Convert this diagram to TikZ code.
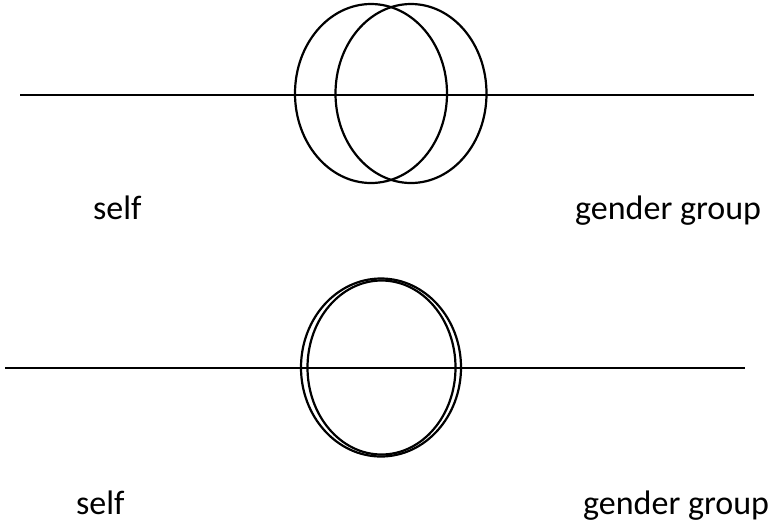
\documentclass[tikz,border=0pt]{standalone}
\usepackage{fontspec}
\setmainfont{Carlito}
\begin{document}
\begin{tikzpicture}[x=1pt,y=-1pt,
  shape line/.style={line width=2.2pt},
  lbl/.style={anchor=base west,inner sep=0pt,font=\fontsize{34}{34}\selectfont}]
\useasboundingbox (0,0) rectangle (768,523);
% top diagram
\coordinate (tl) at (20,95);
\coordinate (tr) at (754,95);
\draw[shape line] (tl) -- (tr);
\draw[shape line] (371,93.5) ellipse [x radius=76, y radius=89.5];
\draw[shape line] (411,93.5) ellipse [x radius=75.5, y radius=89.5];
\node[lbl] (self1) at (93,219) {self};
\node[lbl] (gg1) at (575,219) {gender group};
% bottom diagram
\coordinate (bl) at (5,368);
\coordinate (br) at (745,368);
\draw[shape line] (bl) -- (br);
\draw[shape line] (381,367.5) ellipse [x radius=80, y radius=89];
\draw[shape line] (381.5,367.5) ellipse [x radius=74, y radius=87];
\node[lbl] (self2) at (76,514) {self};
\node[lbl] (gg2) at (583,514) {gender group};
\end{tikzpicture}
\end{document}
